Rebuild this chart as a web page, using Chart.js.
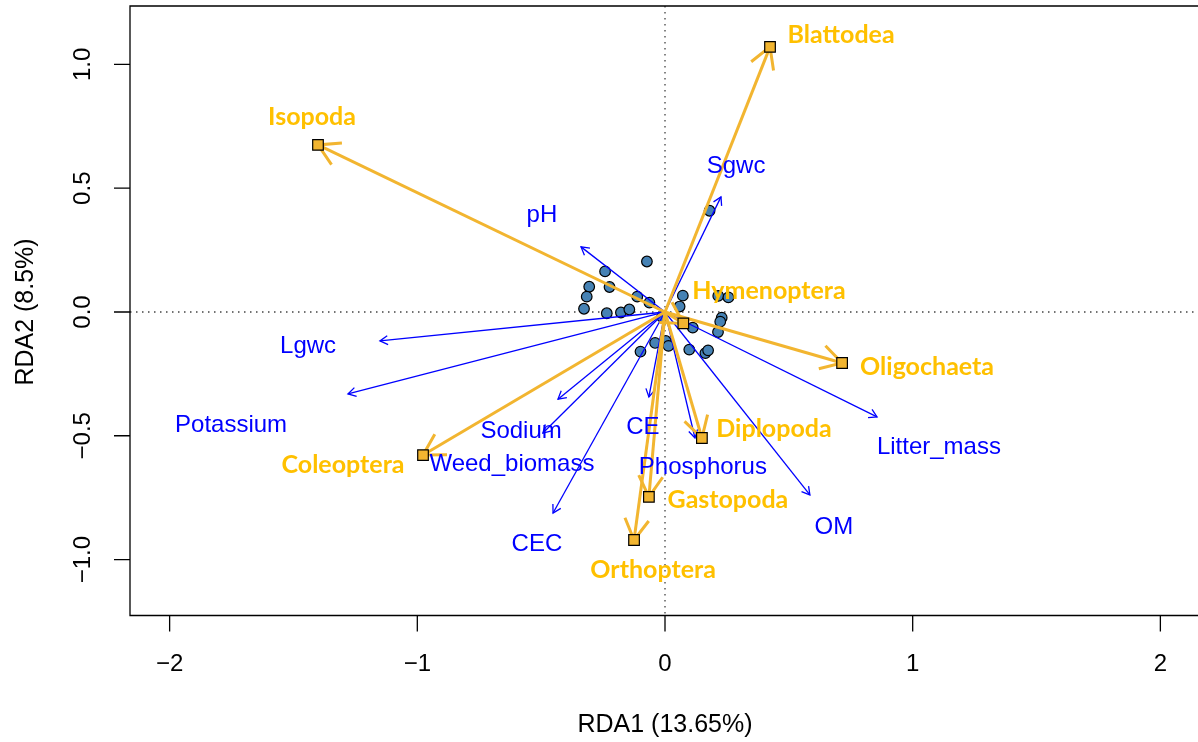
<!DOCTYPE html>
<html>
<head>
<meta charset="utf-8">
<script src="https://cdn.jsdelivr.net/npm/chart.js@4.4.1/dist/chart.umd.min.js"></script>
<style>
  html, body { margin: 0; padding: 0; background: #fff; overflow: hidden; }
  #rdaChart { display: block; }
</style>
</head>
<body>
<canvas id="rdaChart" width="1202" height="742"></canvas>
<script>
// site scores
const siteX = [0.180, -0.073, -0.242, -0.306, -0.224, -0.316, -0.112, -0.063, 0.072, 0.059,
               -0.327, -0.235, -0.178, -0.144, 0.215, 0.256, 0.229, 0.223, 0.214, 0.112,
               0.003, -0.040, 0.014, -0.099, 0.098, 0.163, 0.174, -0.012];
const siteY = [0.409, 0.204, 0.164, 0.102, 0.101, 0.062, 0.062, 0.038, 0.066, 0.022,
               0.013, -0.005, -0.002, 0.010, 0.065, 0.059, -0.023, -0.039, -0.081, -0.063,
               -0.117, -0.125, -0.137, -0.160, -0.152, -0.166, -0.155, -0.020];

// environmental vectors
const envNames = ['pH', 'Sgwc', 'Lgwc', 'Potassium', 'Sodium', 'Weed_biomass', 'CEC', 'CE', 'Phosphorus', 'OM', 'Litter_mass'];
const envX = [-0.339, 0.226, -1.151, -1.280, -0.432, -0.493, -0.452, -0.065, 0.121, 0.585, 0.856];
const envY = [0.263, 0.465, -0.117, -0.331, -0.352, -0.489, -0.812, -0.343, -0.509, -0.739, -0.424];
const envLabelX = [-0.497, 0.287, -1.441, -1.752, -0.581, -0.618, -0.517, -0.089, 0.153, 0.682, 1.106];
const envLabelY = [0.392, 0.590, -0.137, -0.457, -0.481, -0.614, -0.937, -0.465, -0.626, -0.869, -0.545];

// species vectors
const sppNames = ['Isopoda', 'Blattodea', 'Hymenoptera', 'Oligochaeta', 'Diplopoda', 'Gastopoda', 'Orthoptera', 'Coleoptera'];
const sppX = [-1.401, 0.424, 0.074, 0.715, 0.149, -0.065, -0.125, -0.977];
const sppY = [0.675, 1.071, -0.046, -0.206, -0.509, -0.747, -0.921, -0.578];
const sppLabelX = [-1.425, 0.711, 0.420, 1.058, 0.440, 0.254, -0.048, -1.300];
const sppLabelY = [0.788, 1.119, 0.085, -0.222, -0.473, -0.760, -1.042, -0.618];

const xTicks = [-2, -1, 0, 1, 2];
const yTicks = [-1, -0.5, 0, 0.5, 1];
const xTitle = 'RDA1 (13.65%)';
const yTitle = 'RDA2 (8.5%)';

const BLUE = '#0000FF';
const GOLD_LINE = '#F2B530';
const GOLD_TEXT = '#FFC000';

const datasets = [];
datasets.push({
    label: 'sites',
    data: siteX.map((x, i) => ({x: x, y: siteY[i]})),
    pointRadius: 5.3,
    backgroundColor: '#4682B4',
    borderColor: '#000',
    borderWidth: 1.2,
    order: 5
});
envNames.forEach((n, i) => {
    datasets.push({
        label: n,
        data: [{x: 0, y: 0}, {x: envX[i], y: envY[i]}],
        showLine: true,
        pointRadius: 0,
        borderColor: BLUE,
        borderWidth: 1.3,
        arrowHead: 9,
        order: 4
    });
});
sppNames.forEach((n, i) => {
    datasets.push({
        label: n,
        data: [{x: 0, y: 0}, {x: sppX[i], y: sppY[i]}],
        showLine: true,
        pointRadius: 0,
        borderColor: GOLD_LINE,
        borderWidth: 3,
        arrowHead: 24,
        order: 3
    });
});
datasets.push({
    label: 'species',
    data: sppX.map((x, i) => ({x: x, y: sppY[i]})),
    pointStyle: 'rect',
    pointRadius: 7.5,
    backgroundColor: GOLD_LINE,
    borderColor: '#000',
    borderWidth: 1.2,
    order: 1
});

function minus(s){ return s.replace('-', '\u2212'); }

const arrowPlugin = {
    id: 'arrows',
    afterDatasetDraw(chart, args) {
        const ds = chart.data.datasets[args.index];
        if (!ds.arrowHead) return;
        const p = args.meta.data;
        const ctx = chart.ctx;
        const a = Math.atan2(p[1].y - p[0].y, p[1].x - p[0].x);
        const len = ds.arrowHead;
        ctx.save();
        ctx.beginPath();
        ctx.moveTo(p[1].x - len * Math.cos(a - Math.PI / 6), p[1].y - len * Math.sin(a - Math.PI / 6));
        ctx.lineTo(p[1].x, p[1].y);
        ctx.lineTo(p[1].x - len * Math.cos(a + Math.PI / 6), p[1].y - len * Math.sin(a + Math.PI / 6));
        ctx.strokeStyle = ds.borderColor;
        ctx.lineWidth = ds.borderWidth;
        ctx.stroke();
        ctx.restore();
    }
};

const framePlugin = {
    id: 'frame',
    beforeDatasetsDraw(chart) {
        const {ctx, chartArea: a, scales: {x, y}} = chart;
        ctx.save();
        ctx.strokeStyle = '#444';
        ctx.lineWidth = 1.3;
        ctx.setLineDash([1.5, 4.5]);
        const x0 = x.getPixelForValue(0), y0 = y.getPixelForValue(0);
        ctx.beginPath();
        ctx.moveTo(x0, a.top); ctx.lineTo(x0, a.bottom);
        ctx.moveTo(a.left, y0); ctx.lineTo(a.right, y0);
        ctx.stroke();
        ctx.restore();
    },
    afterDatasetsDraw(chart) {
        const {ctx, scales: {x, y}} = chart;
        ctx.save();
        ctx.textAlign = 'center';
        ctx.textBaseline = 'middle';
        ctx.font = '24px "Liberation Sans", Arial, sans-serif';
        ctx.fillStyle = BLUE;
        envNames.forEach((n, i) => {
            ctx.fillText(n, x.getPixelForValue(envLabelX[i]), y.getPixelForValue(envLabelY[i]));
        });
        ctx.font = 'bold 25px Lato, "Open Sans", sans-serif';
        ctx.fillStyle = GOLD_TEXT;
        sppNames.forEach((n, i) => {
            ctx.fillText(n, x.getPixelForValue(sppLabelX[i]), y.getPixelForValue(sppLabelY[i]));
        });
        ctx.restore();
    },
    afterDraw(chart) {
        const {ctx, chartArea: a, scales: {x, y}} = chart;
        ctx.save();
        ctx.strokeStyle = '#000';
        ctx.lineWidth = 1.3;
        ctx.beginPath();
        ctx.rect(a.left, a.top, a.right - a.left, a.bottom - a.top);
        xTicks.forEach(v => {
            const px = x.getPixelForValue(v);
            ctx.moveTo(px, a.bottom); ctx.lineTo(px, a.bottom + 16);
        });
        yTicks.forEach(v => {
            const py = y.getPixelForValue(v);
            ctx.moveTo(a.left, py); ctx.lineTo(a.left - 16, py);
        });
        ctx.stroke();

        ctx.fillStyle = '#000';
        ctx.font = '24px "Liberation Sans", Arial, sans-serif';
        ctx.textAlign = 'center';
        ctx.textBaseline = 'middle';
        xTicks.forEach(v => {
            ctx.fillText(minus(String(v)), x.getPixelForValue(v), 664);
        });
        yTicks.forEach(v => {
            ctx.save();
            ctx.translate(83, y.getPixelForValue(v));
            ctx.rotate(-Math.PI / 2);
            ctx.fillText(minus(v.toFixed(1)), 0, 0);
            ctx.restore();
        });
        ctx.font = '25px "Liberation Sans", Arial, sans-serif';
        ctx.fillText(xTitle, x.getPixelForValue(0), 725);
        ctx.save();
        ctx.translate(26, y.getPixelForValue(0));
        ctx.rotate(-Math.PI / 2);
        ctx.fillText(yTitle, 0, 0);
        ctx.restore();
        ctx.restore();
    }
};

new Chart(document.getElementById('rdaChart'), {
    type: 'scatter',
    data: {datasets: datasets},
    options: {
        responsive: false,
        animation: false,
        events: [],
        layout: {autoPadding: false, padding: {left: 130, top: 6, right: 2, bottom: 126.5}},
        plugins: {legend: {display: false}, tooltip: {enabled: false}},
        scales: {
            x: {type: 'linear', min: -2.16, max: 2.16, display: false},
            y: {type: 'linear', min: -1.226, max: 1.236, display: false}
        }
    },
    plugins: [arrowPlugin, framePlugin]
});
</script>
</body>
</html>
